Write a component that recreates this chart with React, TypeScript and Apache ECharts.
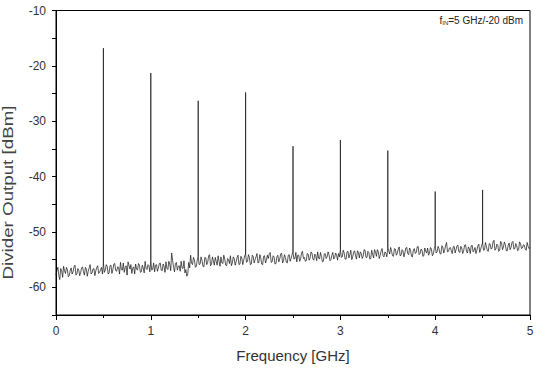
import React, { useEffect, useRef } from "react";
import * as echarts from "echarts";

// Frequency sweep step (GHz) of the noise trace
const freqStep = 0.02;

// Noise floor readings (dBm) at 0.00 .. 5.00 GHz every 0.02 GHz
const noiseFloor: number[] = [
  -57.8,-56.4,-58.6,-57.0,-56.2,-57.5,-56.8,-57.9,-56.5,-57.2,-56.0,-57.6,-56.9,-57.3,-56.3,-57.8,-56.7,-57.1,-55.9,-57.4,-56.6,-57.0,-56.1,-57.3,-56.4,
  -55.6,-56.9,-56.2,-57.4,-56.0,-56.8,-55.7,-57.1,-56.4,-55.5,-56.9,-57.3,-56.1,-55.4,-56.7,-57.5,-56.3,-55.8,-56.9,-56.0,-57.2,-56.5,-55.3,-56.8,-56.1,
  -55.2,-56.7,-57.2,-55.9,-56.5,-55.6,-57.0,-56.2,-55.4,-56.8,-55.8,-53.8,-56.4,-55.7,-56.9,-56.1,-55.3,-56.6,-57.4,-58.0,-55.5,-54.2,-55.9,-55.0,-56.2,
  -54.4,-55.8,-55.1,-56.3,-54.7,-55.5,-54.1,-55.9,-55.2,-54.6,-56.0,-55.3,-54.5,-55.7,-54.9,-56.1,-55.0,-54.3,-55.6,-54.8,-55.4,-54.2,-55.8,-54.7,-55.1,
  -54.0,-55.3,-54.6,-55.8,-54.4,-55.0,-53.9,-55.5,-54.7,-55.9,-54.3,-55.1,-54.8,-53.7,-55.4,-54.5,-55.7,-54.2,-54.9,-53.8,-55.2,-54.6,-55.6,-54.1,-54.8,
  -53.6,-54.8,-55.4,-54.2,-54.9,-53.5,-54.6,-55.2,-54.0,-54.7,-53.8,-55.1,-54.3,-53.6,-54.9,-54.4,-55.3,-53.9,-54.5,-54.1,-55.0,-53.7,-54.6,-54.2,-53.9,
  -53.2,-54.5,-53.8,-54.9,-53.5,-54.1,-55.0,-53.6,-54.3,-53.4,-54.7,-53.9,-54.4,-53.3,-54.6,-53.7,-54.8,-54.0,-53.2,-54.4,-53.6,-54.2,-53.0,-54.5,-53.8,
  -52.9,-54.0,-53.5,-54.4,-53.1,-53.9,-52.7,-54.2,-53.4,-53.8,-52.8,-54.1,-53.3,-54.5,-53.0,-53.7,-52.6,-53.9,-53.2,-54.3,-53.5,-52.9,-53.8,-53.1,-54.0,
  -52.5,-53.6,-53.0,-54.0,-52.7,-53.3,-51.9,-53.5,-52.8,-53.9,-52.6,-53.2,-52.4,-53.7,-52.9,-53.4,-52.3,-53.8,-53.0,-52.5,-53.6,-52.8,-53.3,-52.2,-53.1,
  -52.0,-53.2,-52.6,-53.5,-52.2,-52.9,-51.5,-53.1,-52.4,-53.3,-51.9,-52.7,-52.3,-53.4,-52.0,-52.8,-51.7,-53.0,-52.5,-53.2,-52.1,-52.9,-52.4,-53.3,-52.6,
  -52.8,
];

// Noise floor readings (dBm) at 0.01 .. 4.99 GHz every 0.02 GHz (in between the above)
const noiseFloorMid: number[] = [
  -56.9,-57.9,-56.6,-58.2,-57.0,-56.4,-58.1,-56.9,-57.6,-56.3,-57.8,-56.6,-57.9,-56.5,-57.2,-56.4,-58.0,-56.5,-57.6,-56.7,-57.9,-56.4,-57.5,-56.8,-57.6,
  -57.3,-55.9,-57.6,-56.1,-57.5,-55.8,-57.0,-56.3,-57.6,-56.8,-55.6,-56.4,-57.8,-56.0,-55.9,-56.5,-57.6,-56.7,-55.7,-57.3,-56.0,-57.4,-56.6,-55.9,-57.2,
  -56.9,-55.6,-56.0,-57.1,-55.7,-56.9,-55.8,-57.3,-56.6,-55.3,-57.0,-55.1,-57.2,-55.5,-56.2,-57.1,-56.5,-55.2,-56.8,-57.6,-56.5,-55.6,-54.6,-56.4,-55.1,
  -55.9,-54.5,-56.2,-54.6,-55.9,-54.3,-56.1,-54.5,-56.0,-55.3,-54.3,-56.2,-55.6,-54.2,-56.0,-54.8,-55.7,-56.1,-54.5,-56.0,-54.6,-55.9,-54.4,-55.9,-54.3,
  -55.5,-54.1,-55.9,-54.2,-55.6,-54.5,-55.6,-54.1,-55.8,-54.4,-55.6,-54.2,-53.9,-55.5,-54.3,-55.8,-54.5,-55.4,-54.0,-55.6,-54.1,-55.5,-54.2,-55.3,-54.1,
  -54.9,-53.7,-54.2,-55.3,-53.8,-54.8,-55.3,-53.9,-55.1,-53.6,-54.9,-54.0,-55.2,-54.7,-53.7,-55.4,-54.0,-54.8,-53.6,-55.2,-54.2,-54.9,-53.8,-55.1,-54.5,
  -54.6,-53.3,-54.9,-53.6,-54.7,-53.3,-54.5,-53.4,-54.9,-53.7,-53.6,-54.8,-53.2,-54.6,-53.5,-54.9,-53.3,-54.7,-53.6,-53.2,-54.8,-53.4,-54.3,-53.6,-54.5,
  -53.4,-52.8,-54.3,-53.0,-54.2,-53.1,-54.3,-53.2,-54.5,-52.9,-53.9,-52.9,-54.4,-53.2,-53.9,-52.7,-54.1,-53.1,-54.4,-52.9,-53.8,-54.2,-52.8,-54.3,-53.0,
  -53.8,-52.6,-53.9,-52.5,-53.8,-52.4,-53.6,-52.9,-53.4,-52.7,-53.8,-52.5,-53.6,-52.6,-53.9,-52.4,-53.5,-52.7,-53.9,-52.4,-53.3,-53.9,-52.5,-53.7,-52.4,
  -53.3,-51.9,-53.4,-52.1,-53.1,-51.8,-53.3,-52.2,-53.5,-51.7,-53.2,-51.8,-53.4,-52.4,-53.2,-51.9,-53.1,-52.1,-53.4,-51.8,-53.0,-52.3,-53.1,-51.9,-53.0,
];

// Harmonic spikes
const spikeFreqs: number[] = [0.5, 1.0, 1.5, 2.0, 2.5, 3.0, 3.5, 4.0, 4.5];
const spikePeaks: number[] = [-16.8, -21.3, -26.3, -24.8, -34.5, -33.4, -35.3, -42.7, -42.4];

// Axis ticks
const xTicks = { min: 0, max: 5, interval: 1 };
const yTicks = { min: -65, max: -10, interval: 5 };

function buildTrace(): [number, number][] {
  const out: [number, number][] = [];
  const spikeByIdx = new Map<number, number>();
  spikeFreqs.forEach((f, k) => spikeByIdx.set(Math.round(f / freqStep), spikePeaks[k]));
  noiseFloor.forEach((v, i) => {
    const f = +(i * freqStep).toFixed(2);
    out.push([f, v]);
    const p = spikeByIdx.get(i);
    if (p !== undefined) {
      out.push([f, p]);
      out.push([f, v]);
    }
    if (i < noiseFloorMid.length) {
      out.push([+(f + freqStep / 2).toFixed(3), noiseFloorMid[i]]);
    }
  });
  return out;
}

export default function App() {
  const ref = useRef<HTMLDivElement>(null);
  useEffect(() => {
    if (!ref.current) return;
    const chart = echarts.init(ref.current, null, { renderer: "svg" });
    const font = '"Liberation Sans", Arial, sans-serif';
    chart.setOption({
      animation: false,
      backgroundColor: "#fff",
      grid: {
        left: 56,
        right: 9,
        top: 10.5,
        bottom: 56,
        show: true,
        borderColor: "#000",
        borderWidth: 1,
        backgroundColor: "transparent",
      },
      xAxis: {
        type: "value",
        min: xTicks.min,
        max: xTicks.max,
        interval: xTicks.interval,
        name: "Frequency [GHz]",
        nameLocation: "middle",
        nameGap: 33,
        nameTextStyle: { fontFamily: font, fontSize: 15, color: "#333" },
        axisLine: { show: true, onZero: false, lineStyle: { color: "#000", width: 1 } },
        axisTick: { show: true, inside: false, length: 5, lineStyle: { color: "#000" } },
        minorTick: { show: true, splitNumber: 2, length: 3, lineStyle: { color: "#000" } },
        axisLabel: { fontFamily: font, fontSize: 12, color: "#333", margin: 10 },
        splitLine: { show: false },
      },
      yAxis: {
        type: "value",
        min: yTicks.min,
        max: yTicks.max,
        interval: yTicks.interval,
        axisLine: { show: true, onZero: false, lineStyle: { color: "#000", width: 1 } },
        axisTick: { show: true, inside: false, length: 4, lineStyle: { color: "#000" } },
        axisLabel: {
          fontFamily: font,
          fontSize: 12,
          color: "#333",
          margin: 10,
          formatter: (v: number) => (Math.round(v) % 10 === 0 ? String(v) : ""),
        },
        splitLine: { show: false },
      },
      graphic: [
        {
          type: "text",
          x: 8.5,
          y: 192.5,
          rotation: Math.PI / 2,
          scaleX: 1.25,
          style: {
            text: "Divider Output [dBm]",
            fontFamily: font,
            fontSize: 15,
            fontWeight: "normal",
            fill: "#444",
            lineWidth: 0,
            align: "center",
            verticalAlign: "middle",
          },
        },
        {
          type: "text",
          x: 523,
          y: 20,
          style: {
            text: "{f|f}{s|IN}{n|=5 GHz/-20 dBm}",
            align: "right",
            verticalAlign: "middle",
            rich: {
              f: { fontFamily: font, fontSize: 10, fill: "#222", color: "#222" },
              s: { fontFamily: font, fontSize: 6, fill: "#222", color: "#222", padding: [6, 0, 0, 0] },
              n: { fontFamily: font, fontSize: 10, fill: "#222", color: "#222" },
            },
          },
        },
      ],
      series: [
        {
          type: "line",
          data: buildTrace(),
          showSymbol: false,
          symbol: "none",
          lineStyle: { color: "#111", width: 0.7 },
          emphasis: { disabled: true },
          clip: true,
        },
      ],
    });
    return () => chart.dispose();
  }, []);
  return <div ref={ref} style={{ width: 539, height: 371, position: "absolute", left: 0, top: 0 }} />;
}
